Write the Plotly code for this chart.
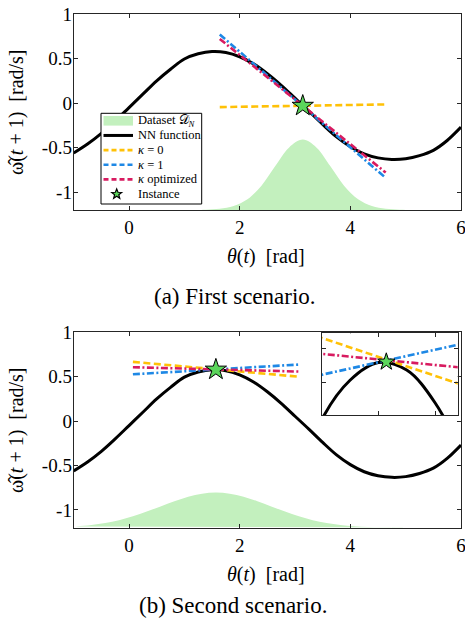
import math
import plotly.graph_objects as go

# ---------------- data ----------------
theta_nn = [-1.0, -0.75, -0.5, -0.25, 0.0, 0.25, 0.5, 0.75, 1.0, 1.25, 1.5, 1.75, 2.0,
            2.25, 2.5, 2.75, 3.0, 3.25, 3.5, 3.75, 4.0, 4.25, 4.5, 4.75, 5.0, 5.25,
            5.5, 5.75, 6.0]
nn_fun = [-0.56, -0.46, -0.34, -0.20, -0.05, 0.10, 0.25, 0.38, 0.495, 0.553, 0.579,
          0.568, 0.52, 0.44, 0.33, 0.20, 0.055, -0.09, -0.24, -0.38, -0.49, -0.57,
          -0.615, -0.633, -0.625, -0.59, -0.53, -0.42, -0.27]

# scenario (a)
ds_a_x = [-1.0, 1.14, 1.39, 1.64, 1.89, 2.14, 2.39, 2.64, 2.89, 3.14, 3.39, 3.64,
          3.89, 4.14, 4.39, 4.64, 4.89, 5.14, 6.0]
ds_a_y = [-1.2, -1.2, -1.197, -1.187, -1.155, -1.08, -0.93, -0.71, -0.50, -0.41,
          -0.50, -0.71, -0.93, -1.08, -1.155, -1.187, -1.197, -1.2, -1.2]
inst_a_x = [3.14]
inst_a_y = [-0.03]
lin_a_x = [1.64, 4.64]
k0_a = [-0.045, -0.015]
k1_a = [0.77, -0.84]
kopt_a = [0.72, -0.78]

# scenario (b)
ds_b_x = [-1.0, -0.93, -0.68, -0.43, -0.18, 0.07, 0.32, 0.57, 0.82, 1.07, 1.32, 1.57,
          1.82, 2.07, 2.32, 2.57, 2.82, 3.07, 3.32, 3.57, 3.82, 4.07, 4.32, 4.57,
          4.82, 5.07, 6.0]
ds_b_y = [-1.186, -1.183, -1.169, -1.147, -1.115, -1.072, -1.019, -0.960, -0.902,
          -0.851, -0.817, -0.805, -0.817, -0.851, -0.902, -0.960, -1.019, -1.072,
          -1.115, -1.147, -1.169, -1.183, -1.191, -1.196, -1.198, -1.2, -1.2]
inst_b_x = [1.57]
inst_b_y = [0.58]
lin_b_x = [0.07, 3.07]
k0_b = [0.667, 0.50]
k1_b = [0.527, 0.637]
kopt_b = [0.607, 0.558]

x_ticks = [0, 2, 4, 6]
y_ticks = [-1, -0.5, 0, 0.5, 1]
y_ticktext = ["-1", "-0.5", "0", "0.5", "1"]
inset_x_ticks = [1.5, 2.0]
inset_y_ticks = [0.55, 0.6]

legend_labels = ["Dataset 𝒟<sub><i>N</i></sub>", "NN function", "<i>κ</i> = 0",
                 "<i>κ</i> = 1", "<i>κ</i> optimized", "Instance"]
captions = ["(a) First scenario.", "(b) Second scenario."]

# ---------------- style ----------------
W, H = 465, 627
FONT = "Liberation Serif"
C_DS = "rgb(195,240,190)"
C_NN = "black"
C_K0 = "#FFC107"
C_K1 = "#1E88E5"
C_KO = "#D81B60"
C_STAR = "#5BD65B"
AX_C = "#262626"
DASH = "7px,3.5px"
DASHDOT = "7px,2.5px,2px,2.5px"


def px(x, y):
    return x / W, 1 - y / H


fig = go.Figure()


def add_set(xa, ya, ds_x, ds_y, lx, k0, k1, ko, ix, iy, star_size, with_ds=True):
    if with_ds:
        fig.add_trace(go.Scatter(x=ds_x, y=ds_y, mode="lines", fill="toself",
                                 fillcolor=C_DS, line=dict(width=0, shape="spline"),
                                 xaxis=xa, yaxis=ya, showlegend=False, hoverinfo="skip"))
    fig.add_trace(go.Scatter(x=theta_nn, y=nn_fun, mode="lines",
                             line=dict(color=C_NN, width=3, shape="spline"),
                             xaxis=xa, yaxis=ya, showlegend=False))
    fig.add_trace(go.Scatter(x=lx, y=k0, mode="lines",
                             line=dict(color=C_K0, width=2.6, dash=DASH),
                             xaxis=xa, yaxis=ya, showlegend=False))
    fig.add_trace(go.Scatter(x=lx, y=k1, mode="lines",
                             line=dict(color=C_K1, width=2.6, dash=DASHDOT),
                             xaxis=xa, yaxis=ya, showlegend=False))
    fig.add_trace(go.Scatter(x=lx, y=ko, mode="lines",
                             line=dict(color=C_KO, width=2.6, dash=DASHDOT),
                             xaxis=xa, yaxis=ya, showlegend=False))
    fig.add_trace(go.Scatter(x=ix, y=iy, mode="markers",
                             marker=dict(symbol="star", size=star_size, color=C_STAR,
                                         line=dict(color="black", width=1)),
                             xaxis=xa, yaxis=ya, showlegend=False))


add_set("x", "y", ds_a_x, ds_a_y, lin_a_x, k0_a, k1_a, kopt_a, inst_a_x, inst_a_y, 16)
add_set("x2", "y2", ds_b_x, ds_b_y, lin_b_x, k0_b, k1_b, kopt_b, inst_b_x, inst_b_y, 16)
add_set("x3", "y3", ds_b_x, ds_b_y, lin_b_x, k0_b, k1_b, kopt_b, inst_b_x, inst_b_y, 13,
        with_ds=False)

axis_common = dict(showline=True, linecolor=AX_C, linewidth=1, mirror="allticks",
                   ticks="inside", ticklen=4, tickcolor=AX_C, tickwidth=1,
                   showgrid=False, zeroline=False, automargin=False,
                   ticklabeloverflow="allow",
                   tickfont=dict(family=FONT, size=19, color="black"))

xd = [73.7 / W, 461 / W]
fig.update_layout(
    width=W, height=H, margin=dict(l=0, r=0, t=0, b=0, pad=0, autoexpand=False),
    paper_bgcolor="white", plot_bgcolor="white", showlegend=False,
    xaxis=dict(domain=xd, range=[-1, 6], tickvals=x_ticks, anchor="y", **axis_common),
    yaxis=dict(domain=[1 - 210 / H, 1 - 14 / H], range=[-1.2, 1], tickvals=y_ticks,
               ticktext=y_ticktext, anchor="x", **axis_common),
    xaxis2=dict(domain=xd, range=[-1, 6], tickvals=x_ticks, anchor="y2", **axis_common),
    yaxis2=dict(domain=[1 - 527.7 / H, 1 - 332.3 / H], range=[-1.2, 1], tickvals=y_ticks,
                ticktext=y_ticktext, anchor="x2", **axis_common),
    xaxis3=dict(domain=[321.7 / W, 457.7 / W], range=[1.0, 2.2], tickvals=inset_x_ticks,
                showticklabels=False, anchor="y3", **axis_common),
    yaxis3=dict(domain=[1 - 415 / H, 1 - 333.3 / H], range=[0.502, 0.622],
                tickvals=inset_y_ticks, showticklabels=False, anchor="x3", **axis_common),
)
# pull y tick labels a little closer to the axis line
try:
    fig.update_layout(yaxis_ticklabelstandoff=-3, yaxis2_ticklabelstandoff=-3)
except Exception:
    pass

annotations = []
tfont = dict(family=FONT, size=20, color="black")
for yc in [256, 574]:
    x, y = px(266, yc)
    annotations.append(dict(x=x, y=y, xref="paper", yref="paper", showarrow=False,
                            text="<i>θ</i>(<i>t</i>)  [rad]", font=tfont,
                            xanchor="center", yanchor="middle"))
for yc in [112, 430]:
    x, y = px(17, yc)
    annotations.append(dict(x=x, y=y, xref="paper", yref="paper", showarrow=False,
                            text="ω̂(<i>t</i> + 1)  [rad/s]", font=tfont,
                            textangle=-90, xanchor="center", yanchor="middle"))
for cap, (xc, yc) in zip(captions, [(235, 297), (232.5, 605)]):
    x, y = px(xc, yc)
    annotations.append(dict(x=x, y=y, xref="paper", yref="paper", showarrow=False,
                            text=cap, font=dict(family=FONT, size=23, color="black"),
                            xanchor="center", yanchor="middle"))

# ---------------- manual legend (layout decoration) ----------------
shapes = []
L, R, T, B = 101, 201.7, 113.3, 204
x0, y0 = px(L, T)
x1, y1 = px(R, B)
shapes.append(dict(type="rect", xref="paper", yref="paper", x0=x0, x1=x1, y0=y1, y1=y0,
                   fillcolor="white", line=dict(color="black", width=1), layer="above"))
rows = [120.8 + 14.65 * i for i in range(6)]
sx0, sx1 = 103.5, 133
a0, b0 = px(sx0, rows[0] - 4.8)
a1, b1 = px(sx1, rows[0] + 4.8)
shapes.append(dict(type="rect", xref="paper", yref="paper", x0=a0, x1=a1, y0=b1, y1=b0,
                   fillcolor=C_DS, line=dict(width=0), layer="above"))
for r, col, dash, w in [(rows[1], C_NN, "solid", 3), (rows[2], C_K0, "5px,3px", 2.6),
                        (rows[3], C_K1, "5px,3px", 2.6), (rows[4], C_KO, "5px,3px", 2.6)]:
    a0, b0 = px(sx0, r)
    a1, _ = px(sx1, r)
    shapes.append(dict(type="line", xref="paper", yref="paper", x0=a0, x1=a1, y0=b0, y1=b0,
                       line=dict(color=col, width=w, dash=dash), layer="above"))
cx, cy = 116.7, rows[5]
pts = []
for i in range(10):
    ang = -math.pi / 2 + i * math.pi / 5
    rad = 5.2 if i % 2 == 0 else 2.2
    pts.append(px(cx + rad * math.cos(ang), cy + rad * math.sin(ang)))
path = "M " + " L ".join(f"{p[0]:.5f},{p[1]:.5f}" for p in pts) + " Z"
shapes.append(dict(type="path", xref="paper", yref="paper", path=path,
                   fillcolor=C_STAR, line=dict(color="black", width=1.2), layer="above"))
for lab, r in zip(legend_labels, rows):
    x, y = px(135.7, r)
    annotations.append(dict(x=x, y=y, xref="paper", yref="paper", showarrow=False,
                            text=lab, font=dict(family=FONT, size=12.5, color="black"),
                            xanchor="left", yanchor="middle"))

fig.update_layout(shapes=shapes, annotations=annotations)
fig.write_html("out.html", config={"displayModeBar": False},
               post_script="document.body.style.margin='0px';"
                           "document.body.style.overflow='hidden';")
